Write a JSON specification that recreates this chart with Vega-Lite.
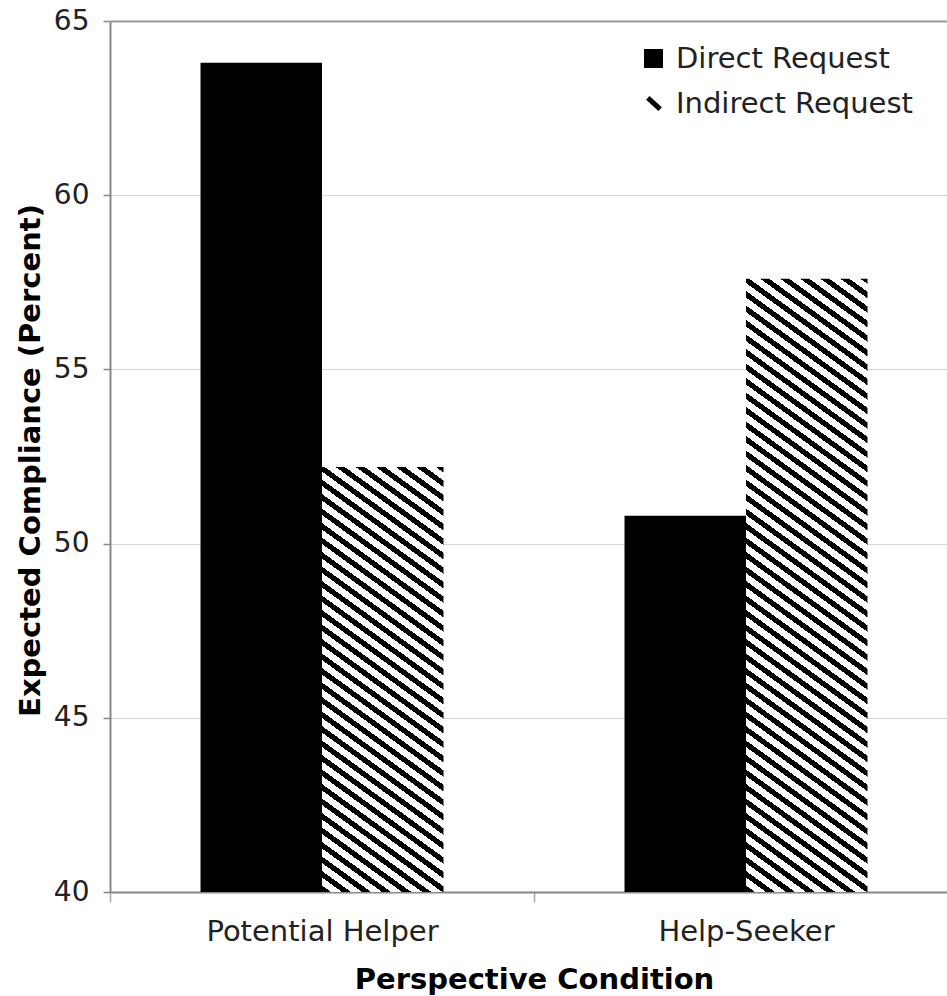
{
  "$schema": "https://vega.github.io/schema/vega-lite/v6.json",
  "width": 837,
  "height": 871,
  "autosize": {"type": "none"},
  "padding": {"left": 110, "top": 21, "right": 0, "bottom": 104},
  "background": "white",
  "config": {"view": {"stroke": null}, "font": "DejaVu Sans"},
  "data": {
    "values": [
      {"Condition": "Potential Helper", "Request": "Direct Request", "Value": 63.8},
      {"Condition": "Potential Helper", "Request": "Indirect Request", "Value": 52.2},
      {"Condition": "Help-Seeker", "Request": "Direct Request", "Value": 50.8},
      {"Condition": "Help-Seeker", "Request": "Indirect Request", "Value": 57.6}
    ]
  },
  "encoding": {
    "x": {
      "field": "Condition",
      "type": "nominal",
      "sort": ["Potential Helper", "Help-Seeker"],
      "scale": {"range": [0, 848], "paddingInner": 0, "paddingOuter": 0},
      "axis": {
        "title": "Perspective Condition",
        "titleFont": "DejaVu Sans",
        "titleFontSize": 29,
        "titleFontWeight": "bold",
        "titleColor": "black",
        "titlePadding": 19,
        "labelFont": "DejaVu Sans",
        "labelFontSize": 29,
        "labelColor": "#222",
        "labelPadding": 15,
        "labelAngle": 0,
        "labelLimit": 0,
        "tickSize": 10,
        "tickColor": "#aaa",
        "tickWidth": 1.5,
        "tickBand": "extent",
        "domainColor": "#888",
        "domainWidth": 2
      }
    },
    "xOffset": {
      "field": "Request",
      "type": "nominal",
      "sort": ["Direct Request", "Indirect Request"],
      "scale": {"paddingInner": 0, "paddingOuter": 0.745}
    },
    "y": {
      "field": "Value",
      "type": "quantitative",
      "scale": {"domain": [40, 65], "nice": false, "zero": false},
      "axis": {
        "values": [40, 45, 50, 55, 60, 65],
        "title": "Expected Compliance (Percent)",
        "titleFont": "DejaVu Sans",
        "titleFontSize": 29,
        "titleFontWeight": "bold",
        "titleColor": "black",
        "titlePadding": 8,
        "titleY": 439,
        "labelFont": "DejaVu Sans",
        "labelFontSize": 28,
        "labelColor": "#222",
        "labelPadding": 14,
        "tickSize": 7,
        "tickColor": "#888",
        "tickWidth": 1.5,
        "domainColor": "#888",
        "domainWidth": 2,
        "grid": true,
        "gridColor": {"condition": {"test": "datum.value === 65", "value": "#999"}, "value": "#d4d4d4"},
        "gridWidth": {"condition": {"test": "datum.value === 65", "value": 2}, "value": 1}
      }
    },
    "y2": {"datum": 40}
  },
  "layer": [
    {
      "mark": {"type": "bar"},
      "encoding": {
        "fill": {
          "field": "Request",
          "type": "nominal",
          "scale": {"domain": ["Direct Request", "Indirect Request"], "range": ["black", "white"]},
          "legend": {
            "orient": "none",
            "legendX": 529,
            "legendY": 23,
            "title": null,
            "labelFont": "DejaVu Sans",
            "labelFontSize": 29,
            "labelColor": "#222",
            "labelOffset": 8,
            "labelLimit": 0,
            "symbolSize": 361,
            "rowPadding": 13,
            "encode": {
              "symbols": {
                "update": {
                  "shape": {"signal": "datum.value === 'Direct Request' ? 'square' : 'M-0.6,-0.6L0.7,0.6'"},
                  "fill": {"signal": "datum.value === 'Direct Request' ? 'black' : 'transparent'"},
                  "stroke": {"value": "black"},
                  "strokeWidth": {"signal": "datum.value === 'Direct Request' ? 0 : 5"}
                }
              }
            }
          }
        }
      }
    },
    {
      "transform": [{"filter": "datum.Request === 'Indirect Request' && datum.Condition === 'Potential Helper'"}],
      "mark": {
        "type": "bar",
        "fill": {
          "gradient": "linear",
          "x1": 0, "y1": 1, "x2": 0.3381, "y2": -0.6355,
          "stops": [
            {"offset":0,"color":"#000"},{"offset":0.009,"color":"#000"},{"offset":0.009,"color":"#fff"},{"offset":0.02,"color":"#fff"},
            {"offset":0.02,"color":"#000"},{"offset":0.029,"color":"#000"},{"offset":0.029,"color":"#fff"},{"offset":0.04,"color":"#fff"},
            {"offset":0.04,"color":"#000"},{"offset":0.049,"color":"#000"},{"offset":0.049,"color":"#fff"},{"offset":0.06,"color":"#fff"},
            {"offset":0.06,"color":"#000"},{"offset":0.069,"color":"#000"},{"offset":0.069,"color":"#fff"},{"offset":0.08,"color":"#fff"},
            {"offset":0.08,"color":"#000"},{"offset":0.089,"color":"#000"},{"offset":0.089,"color":"#fff"},{"offset":0.1,"color":"#fff"},
            {"offset":0.1,"color":"#000"},{"offset":0.109,"color":"#000"},{"offset":0.109,"color":"#fff"},{"offset":0.12,"color":"#fff"},
            {"offset":0.12,"color":"#000"},{"offset":0.129,"color":"#000"},{"offset":0.129,"color":"#fff"},{"offset":0.14,"color":"#fff"},
            {"offset":0.14,"color":"#000"},{"offset":0.149,"color":"#000"},{"offset":0.149,"color":"#fff"},{"offset":0.16,"color":"#fff"},
            {"offset":0.16,"color":"#000"},{"offset":0.169,"color":"#000"},{"offset":0.169,"color":"#fff"},{"offset":0.18,"color":"#fff"},
            {"offset":0.18,"color":"#000"},{"offset":0.189,"color":"#000"},{"offset":0.189,"color":"#fff"},{"offset":0.2,"color":"#fff"},
            {"offset":0.2,"color":"#000"},{"offset":0.209,"color":"#000"},{"offset":0.209,"color":"#fff"},{"offset":0.22,"color":"#fff"},
            {"offset":0.22,"color":"#000"},{"offset":0.229,"color":"#000"},{"offset":0.229,"color":"#fff"},{"offset":0.24,"color":"#fff"},
            {"offset":0.24,"color":"#000"},{"offset":0.249,"color":"#000"},{"offset":0.249,"color":"#fff"},{"offset":0.26,"color":"#fff"},
            {"offset":0.26,"color":"#000"},{"offset":0.269,"color":"#000"},{"offset":0.269,"color":"#fff"},{"offset":0.28,"color":"#fff"},
            {"offset":0.28,"color":"#000"},{"offset":0.289,"color":"#000"},{"offset":0.289,"color":"#fff"},{"offset":0.3,"color":"#fff"},
            {"offset":0.3,"color":"#000"},{"offset":0.309,"color":"#000"},{"offset":0.309,"color":"#fff"},{"offset":0.32,"color":"#fff"},
            {"offset":0.32,"color":"#000"},{"offset":0.329,"color":"#000"},{"offset":0.329,"color":"#fff"},{"offset":0.34,"color":"#fff"},
            {"offset":0.34,"color":"#000"},{"offset":0.349,"color":"#000"},{"offset":0.349,"color":"#fff"},{"offset":0.36,"color":"#fff"},
            {"offset":0.36,"color":"#000"},{"offset":0.369,"color":"#000"},{"offset":0.369,"color":"#fff"},{"offset":0.38,"color":"#fff"},
            {"offset":0.38,"color":"#000"},{"offset":0.389,"color":"#000"},{"offset":0.389,"color":"#fff"},{"offset":0.4,"color":"#fff"},
            {"offset":0.4,"color":"#000"},{"offset":0.409,"color":"#000"},{"offset":0.409,"color":"#fff"},{"offset":0.42,"color":"#fff"},
            {"offset":0.42,"color":"#000"},{"offset":0.429,"color":"#000"},{"offset":0.429,"color":"#fff"},{"offset":0.44,"color":"#fff"},
            {"offset":0.44,"color":"#000"},{"offset":0.449,"color":"#000"},{"offset":0.449,"color":"#fff"},{"offset":0.46,"color":"#fff"},
            {"offset":0.46,"color":"#000"},{"offset":0.469,"color":"#000"},{"offset":0.469,"color":"#fff"},{"offset":0.48,"color":"#fff"},
            {"offset":0.48,"color":"#000"},{"offset":0.489,"color":"#000"},{"offset":0.489,"color":"#fff"},{"offset":0.5,"color":"#fff"},
            {"offset":0.5,"color":"#000"},{"offset":0.509,"color":"#000"},{"offset":0.509,"color":"#fff"},{"offset":0.52,"color":"#fff"},
            {"offset":0.52,"color":"#000"},{"offset":0.529,"color":"#000"},{"offset":0.529,"color":"#fff"},{"offset":0.54,"color":"#fff"},
            {"offset":0.54,"color":"#000"},{"offset":0.549,"color":"#000"},{"offset":0.549,"color":"#fff"},{"offset":0.56,"color":"#fff"},
            {"offset":0.56,"color":"#000"},{"offset":0.569,"color":"#000"},{"offset":0.569,"color":"#fff"},{"offset":0.58,"color":"#fff"},
            {"offset":0.58,"color":"#000"},{"offset":0.589,"color":"#000"},{"offset":0.589,"color":"#fff"},{"offset":0.6,"color":"#fff"},
            {"offset":0.6,"color":"#000"},{"offset":0.609,"color":"#000"},{"offset":0.609,"color":"#fff"},{"offset":0.62,"color":"#fff"},
            {"offset":0.62,"color":"#000"},{"offset":0.629,"color":"#000"},{"offset":0.629,"color":"#fff"},{"offset":0.64,"color":"#fff"},
            {"offset":0.64,"color":"#000"},{"offset":0.649,"color":"#000"},{"offset":0.649,"color":"#fff"},{"offset":0.66,"color":"#fff"},
            {"offset":0.66,"color":"#000"},{"offset":0.669,"color":"#000"},{"offset":0.669,"color":"#fff"},{"offset":0.68,"color":"#fff"},
            {"offset":0.68,"color":"#000"},{"offset":0.689,"color":"#000"},{"offset":0.689,"color":"#fff"},{"offset":0.7,"color":"#fff"},
            {"offset":0.7,"color":"#000"},{"offset":0.709,"color":"#000"},{"offset":0.709,"color":"#fff"},{"offset":0.72,"color":"#fff"},
            {"offset":0.72,"color":"#000"},{"offset":0.729,"color":"#000"},{"offset":0.729,"color":"#fff"},{"offset":0.74,"color":"#fff"}
          ]
        }
      }
    },
    {
      "transform": [{"filter": "datum.Request === 'Indirect Request' && datum.Condition === 'Help-Seeker'"}],
      "mark": {
        "type": "bar",
        "fill": {
          "gradient": "linear",
          "x1": 0, "y1": 1, "x2": 0.166, "y2": -0.1586,
          "stops": [
            {"offset":0,"color":"#000"},{"offset":0.009,"color":"#000"},{"offset":0.009,"color":"#fff"},{"offset":0.02,"color":"#fff"},
            {"offset":0.02,"color":"#000"},{"offset":0.029,"color":"#000"},{"offset":0.029,"color":"#fff"},{"offset":0.04,"color":"#fff"},
            {"offset":0.04,"color":"#000"},{"offset":0.049,"color":"#000"},{"offset":0.049,"color":"#fff"},{"offset":0.06,"color":"#fff"},
            {"offset":0.06,"color":"#000"},{"offset":0.069,"color":"#000"},{"offset":0.069,"color":"#fff"},{"offset":0.08,"color":"#fff"},
            {"offset":0.08,"color":"#000"},{"offset":0.089,"color":"#000"},{"offset":0.089,"color":"#fff"},{"offset":0.1,"color":"#fff"},
            {"offset":0.1,"color":"#000"},{"offset":0.109,"color":"#000"},{"offset":0.109,"color":"#fff"},{"offset":0.12,"color":"#fff"},
            {"offset":0.12,"color":"#000"},{"offset":0.129,"color":"#000"},{"offset":0.129,"color":"#fff"},{"offset":0.14,"color":"#fff"},
            {"offset":0.14,"color":"#000"},{"offset":0.149,"color":"#000"},{"offset":0.149,"color":"#fff"},{"offset":0.16,"color":"#fff"},
            {"offset":0.16,"color":"#000"},{"offset":0.169,"color":"#000"},{"offset":0.169,"color":"#fff"},{"offset":0.18,"color":"#fff"},
            {"offset":0.18,"color":"#000"},{"offset":0.189,"color":"#000"},{"offset":0.189,"color":"#fff"},{"offset":0.2,"color":"#fff"},
            {"offset":0.2,"color":"#000"},{"offset":0.209,"color":"#000"},{"offset":0.209,"color":"#fff"},{"offset":0.22,"color":"#fff"},
            {"offset":0.22,"color":"#000"},{"offset":0.229,"color":"#000"},{"offset":0.229,"color":"#fff"},{"offset":0.24,"color":"#fff"},
            {"offset":0.24,"color":"#000"},{"offset":0.249,"color":"#000"},{"offset":0.249,"color":"#fff"},{"offset":0.26,"color":"#fff"},
            {"offset":0.26,"color":"#000"},{"offset":0.269,"color":"#000"},{"offset":0.269,"color":"#fff"},{"offset":0.28,"color":"#fff"},
            {"offset":0.28,"color":"#000"},{"offset":0.289,"color":"#000"},{"offset":0.289,"color":"#fff"},{"offset":0.3,"color":"#fff"},
            {"offset":0.3,"color":"#000"},{"offset":0.309,"color":"#000"},{"offset":0.309,"color":"#fff"},{"offset":0.32,"color":"#fff"},
            {"offset":0.32,"color":"#000"},{"offset":0.329,"color":"#000"},{"offset":0.329,"color":"#fff"},{"offset":0.34,"color":"#fff"},
            {"offset":0.34,"color":"#000"},{"offset":0.349,"color":"#000"},{"offset":0.349,"color":"#fff"},{"offset":0.36,"color":"#fff"},
            {"offset":0.36,"color":"#000"},{"offset":0.369,"color":"#000"},{"offset":0.369,"color":"#fff"},{"offset":0.38,"color":"#fff"},
            {"offset":0.38,"color":"#000"},{"offset":0.389,"color":"#000"},{"offset":0.389,"color":"#fff"},{"offset":0.4,"color":"#fff"},
            {"offset":0.4,"color":"#000"},{"offset":0.409,"color":"#000"},{"offset":0.409,"color":"#fff"},{"offset":0.42,"color":"#fff"},
            {"offset":0.42,"color":"#000"},{"offset":0.429,"color":"#000"},{"offset":0.429,"color":"#fff"},{"offset":0.44,"color":"#fff"},
            {"offset":0.44,"color":"#000"},{"offset":0.449,"color":"#000"},{"offset":0.449,"color":"#fff"},{"offset":0.46,"color":"#fff"},
            {"offset":0.46,"color":"#000"},{"offset":0.469,"color":"#000"},{"offset":0.469,"color":"#fff"},{"offset":0.48,"color":"#fff"},
            {"offset":0.48,"color":"#000"},{"offset":0.489,"color":"#000"},{"offset":0.489,"color":"#fff"},{"offset":0.5,"color":"#fff"},
            {"offset":0.5,"color":"#000"},{"offset":0.509,"color":"#000"},{"offset":0.509,"color":"#fff"},{"offset":0.52,"color":"#fff"},
            {"offset":0.52,"color":"#000"},{"offset":0.529,"color":"#000"},{"offset":0.529,"color":"#fff"},{"offset":0.54,"color":"#fff"},
            {"offset":0.54,"color":"#000"},{"offset":0.549,"color":"#000"},{"offset":0.549,"color":"#fff"},{"offset":0.56,"color":"#fff"},
            {"offset":0.56,"color":"#000"},{"offset":0.569,"color":"#000"},{"offset":0.569,"color":"#fff"},{"offset":0.58,"color":"#fff"},
            {"offset":0.58,"color":"#000"},{"offset":0.589,"color":"#000"},{"offset":0.589,"color":"#fff"},{"offset":0.6,"color":"#fff"},
            {"offset":0.6,"color":"#000"},{"offset":0.609,"color":"#000"},{"offset":0.609,"color":"#fff"},{"offset":0.62,"color":"#fff"},
            {"offset":0.62,"color":"#000"},{"offset":0.629,"color":"#000"},{"offset":0.629,"color":"#fff"},{"offset":0.64,"color":"#fff"},
            {"offset":0.64,"color":"#000"},{"offset":0.649,"color":"#000"},{"offset":0.649,"color":"#fff"},{"offset":0.66,"color":"#fff"},
            {"offset":0.66,"color":"#000"},{"offset":0.669,"color":"#000"},{"offset":0.669,"color":"#fff"},{"offset":0.68,"color":"#fff"},
            {"offset":0.68,"color":"#000"},{"offset":0.689,"color":"#000"},{"offset":0.689,"color":"#fff"},{"offset":0.7,"color":"#fff"},
            {"offset":0.7,"color":"#000"},{"offset":0.709,"color":"#000"},{"offset":0.709,"color":"#fff"},{"offset":0.72,"color":"#fff"},
            {"offset":0.72,"color":"#000"},{"offset":0.729,"color":"#000"},{"offset":0.729,"color":"#fff"},{"offset":0.74,"color":"#fff"},
            {"offset":0.74,"color":"#000"},{"offset":0.749,"color":"#000"},{"offset":0.749,"color":"#fff"},{"offset":0.76,"color":"#fff"},
            {"offset":0.76,"color":"#000"},{"offset":0.769,"color":"#000"},{"offset":0.769,"color":"#fff"},{"offset":0.78,"color":"#fff"},
            {"offset":0.78,"color":"#000"},{"offset":0.789,"color":"#000"},{"offset":0.789,"color":"#fff"},{"offset":0.8,"color":"#fff"},
            {"offset":0.8,"color":"#000"},{"offset":0.809,"color":"#000"},{"offset":0.809,"color":"#fff"},{"offset":0.82,"color":"#fff"},
            {"offset":0.82,"color":"#000"},{"offset":0.829,"color":"#000"},{"offset":0.829,"color":"#fff"},{"offset":0.84,"color":"#fff"},
            {"offset":0.84,"color":"#000"},{"offset":0.849,"color":"#000"},{"offset":0.849,"color":"#fff"},{"offset":0.86,"color":"#fff"},
            {"offset":0.86,"color":"#000"},{"offset":0.869,"color":"#000"},{"offset":0.869,"color":"#fff"},{"offset":0.88,"color":"#fff"},
            {"offset":0.88,"color":"#000"},{"offset":0.889,"color":"#000"},{"offset":0.889,"color":"#fff"},{"offset":0.9,"color":"#fff"},
            {"offset":0.9,"color":"#000"},{"offset":0.909,"color":"#000"},{"offset":0.909,"color":"#fff"},{"offset":0.92,"color":"#fff"},
            {"offset":0.92,"color":"#000"},{"offset":0.929,"color":"#000"},{"offset":0.929,"color":"#fff"},{"offset":0.94,"color":"#fff"},
            {"offset":0.94,"color":"#000"},{"offset":0.949,"color":"#000"},{"offset":0.949,"color":"#fff"},{"offset":0.96,"color":"#fff"},
            {"offset":0.96,"color":"#000"},{"offset":0.969,"color":"#000"},{"offset":0.969,"color":"#fff"},{"offset":0.98,"color":"#fff"},
            {"offset":0.98,"color":"#000"},{"offset":0.989,"color":"#000"},{"offset":0.989,"color":"#fff"},{"offset":1,"color":"#fff"}
          ]
        }
      }
    }
  ]
}
